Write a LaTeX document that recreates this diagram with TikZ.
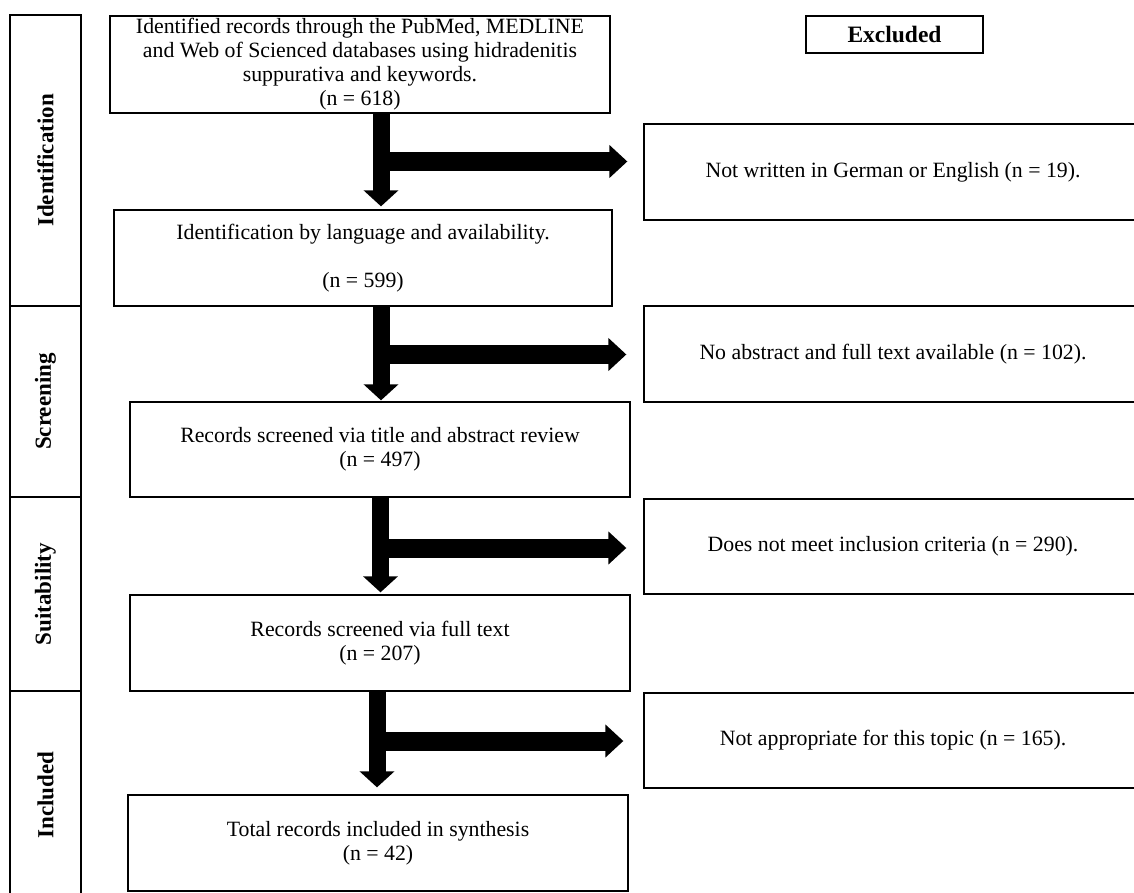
\documentclass[tikz,border=0pt]{standalone}
\usepackage{fontspec}
\setmainfont{Liberation Serif}
\usetikzlibrary{arrows.meta}
\tikzset{
  box/.style={draw=black, line width=1.3pt, rectangle, inner sep=1pt, align=center,
    font=\fontsize{21.8}{24}\selectfont},
  band/.style={draw=black, line width=1.3pt, rectangle, minimum width=71pt, inner sep=0pt},
  bandlabel/.style={rotate=90, font=\fontsize{23}{26}\selectfont\bfseries, inner sep=0pt},
  vflow/.style={line width=17pt, -{Triangle[length=16pt,width=34pt]}},
  hflow/.style={line width=19pt, -{Triangle[length=18pt,width=32pt]}},
}
\begin{document}
\begin{tikzpicture}[x=1pt,y=-1pt]
\useasboundingbox (0,0) rectangle (1134,893);
\clip (0,0) rectangle (1134,893);
\fill[white] (0,0) rectangle (1134,893);

% phase bands
\node[band, minimum height=291pt] (bid) at (45.5,160.5) {};
\node[band, minimum height=191pt] (bsc) at (45.5,401.5) {};
\node[band, minimum height=194pt] (bsu) at (45.5,594) {};
\node[band, minimum height=208pt] (bin) at (45.5,795) {};
\node[bandlabel] (lid) at (bid) {Identification};
\node[bandlabel] (lsc) at (bsc) {Screening};
\node[bandlabel] (lsu) at (bsu) {Suitability};
\node[bandlabel] (lin) at (bin) {Included};

% main boxes
\node[box, minimum width=500pt, minimum height=97pt] (b1) at (360,64.5)
  {Identified records through the PubMed, MEDLINE\\and Web of Scienced databases using hidradenitis\\suppurativa and keywords.\\(n = 618)};
\node[box, minimum width=498pt, minimum height=96pt] (b2) at (363,258)
  {Identification by language and availability.\\[24pt](n = 599)};
\node[box, minimum width=500pt, minimum height=95pt] (b3) at (380,449.5)
  {Records screened via title and abstract review\\(n = 497)};
\node[box, minimum width=500pt, minimum height=96pt] (b4) at (380,643)
  {Records screened via full text\\(n = 207)};
\node[box, minimum width=500pt, minimum height=96pt] (b5) at (378,843)
  {Total records included in synthesis\\(n = 42)};

% excluded header and boxes
\node[box, minimum width=177pt, minimum height=37pt, font=\fontsize{23.5}{26}\selectfont\bfseries] (ex) at (894.5,34.5) {Excluded};
\node[box, minimum width=498pt, minimum height=96pt] (r1) at (893,172) {Not written in German or English (n = 19).};
\node[box, minimum width=498pt, minimum height=96pt] (r2) at (893,354) {No abstract and full text available (n = 102).};
\node[box, minimum width=498pt, minimum height=95pt] (r3) at (893,546.5) {Does not meet inclusion criteria (n = 290).};
\node[box, minimum width=498pt, minimum height=95pt] (r4) at (893,740.5) {Not appropriate for this topic (n = 165).};

% arrow guide coordinates
\coordinate (v1) at (381,161.5);
\coordinate (v2) at (381,354.5);
\coordinate (v3) at (380.5,548);
\coordinate (v4) at (377,741);

% arrows
\draw[vflow, shorten >=3pt] (b1.south -| v1) -- (b2.north -| v1);
\draw[hflow, shorten >=16pt] (v1) -- (r1.west |- v1);
\draw[vflow, shorten >=1pt] (b2.south -| v2) -- (b3.north -| v2);
\draw[hflow, shorten >=17pt] (v2) -- (r2.west |- v2);
\draw[vflow, shorten >=2pt] (b3.south -| v3) -- (b4.north -| v3);
\draw[hflow, shorten >=17pt] (v3) -- (r3.west |- v3);
\draw[vflow, shorten >=7pt] (b4.south -| v4) -- (b5.north -| v4);
\draw[hflow, shorten >=20pt] (v4) -- (r4.west |- v4);
\end{tikzpicture}
\end{document}
